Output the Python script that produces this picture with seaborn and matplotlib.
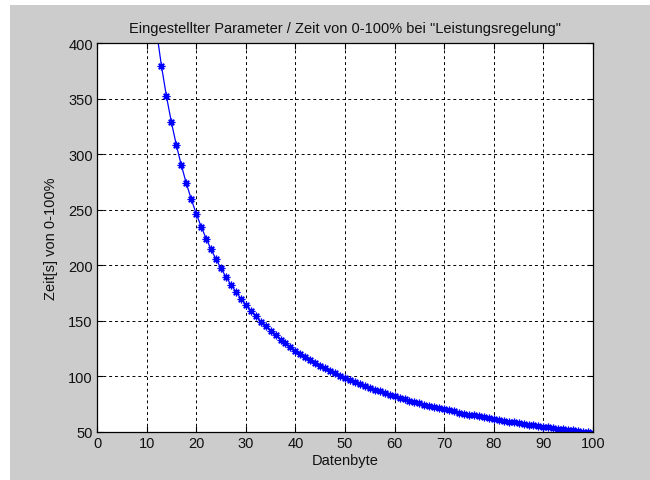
import matplotlib
matplotlib.use("Agg")
import matplotlib.pyplot as plt
import seaborn as sns
import pandas as pd
from matplotlib.patches import Rectangle

# Data
datenbyte = list(range(12, 101))
zeit = [410.8, 379.2, 352.1, 328.7, 308.1, 290.0, 273.9, 259.5, 246.5, 234.8,
        224.1, 214.3, 205.4, 197.2, 189.6, 182.6, 176.1, 170.0, 164.3, 159.0,
        154.1, 149.4, 145.0, 140.9, 136.9, 133.2, 129.7, 126.4, 123.3, 120.2,
        117.4, 114.7, 112.0, 109.6, 107.2, 104.9, 102.7, 100.6, 98.6, 96.7,
        94.8, 93.0, 91.3, 89.6, 88.0, 86.5, 85.0, 83.6, 82.2, 80.8,
        79.5, 78.3, 77.0, 75.8, 74.7, 73.6, 72.5, 71.4, 70.4, 69.4,
        68.5, 67.5, 66.6, 65.7, 64.9, 64.0, 63.2, 62.4, 61.6, 60.9,
        60.1, 59.4, 58.7, 58.0, 57.3, 56.7, 56.0, 55.4, 54.8, 54.2,
        53.6, 53.0, 52.4, 51.9, 51.4, 50.8, 50.3, 49.8, 49.3]
x_ticks = [0, 10, 20, 30, 40, 50, 60, 70, 80, 90, 100]
y_ticks = [50, 100, 150, 200, 250, 300, 350, 400]

title = 'Eingestellter Parameter / Zeit von 0-100% bei "Leistungsregelung"'
xlabel = "Datenbyte"
ylabel = "Zeit[s] von 0-100%"

sns.set_theme(style="white")
plt.rcParams['font.family'] = ['Liberation Sans', 'DejaVu Sans']
plt.rcParams['font.size'] = 10.5

df = pd.DataFrame({"x": datenbyte, "y": zeit})

fig = plt.figure(figsize=(6.5, 4.81), dpi=100, facecolor="white")
# gray MATLAB-like figure background (white strip on left and top)
fig.patches.append(Rectangle((10 / 650, 0), 1 - 10 / 650, 1 - 6 / 481,
                             transform=fig.transFigure, facecolor="#cccccc",
                             edgecolor="none", zorder=-10))

ax = fig.add_axes([97 / 650, (481 - 433) / 481, 496 / 650, 389 / 481])
ax.set_facecolor("white")

sns.lineplot(data=df, x="x", y="y", ax=ax, color="blue", linewidth=0.9,
             marker=(8, 2, 0), markersize=5.5, markeredgecolor="blue",
             markeredgewidth=0.9, markerfacecolor="blue")

ax.set_xlim(0, 100)
ax.set_ylim(50, 400)
ax.set_xticks(x_ticks)
ax.set_yticks(y_ticks)
ax.set_xticklabels([str(t) for t in x_ticks], fontsize=10.5, color="#111111")
ax.set_yticklabels([str(t) for t in y_ticks], fontsize=10.5, color="#111111")
ax.tick_params(direction="in", length=4, width=0.8, color="black",
               top=True, right=True, bottom=True, left=True, pad=3)

ax.grid(True, color="black", linestyle=(0, (3, 3)), linewidth=0.7)
for s in ax.spines.values():
    s.set_visible(True)
    s.set_color("black")
    s.set_linewidth(0.9)

ax.set_title(title, fontsize=10.5, color="#111111", pad=8)
ax.set_xlabel(xlabel, fontsize=10.5, color="#111111", labelpad=2)
ax.set_ylabel(ylabel, fontsize=10.5, color="#111111", labelpad=7)

fig.savefig("out.png", dpi=100, facecolor=fig.get_facecolor())
